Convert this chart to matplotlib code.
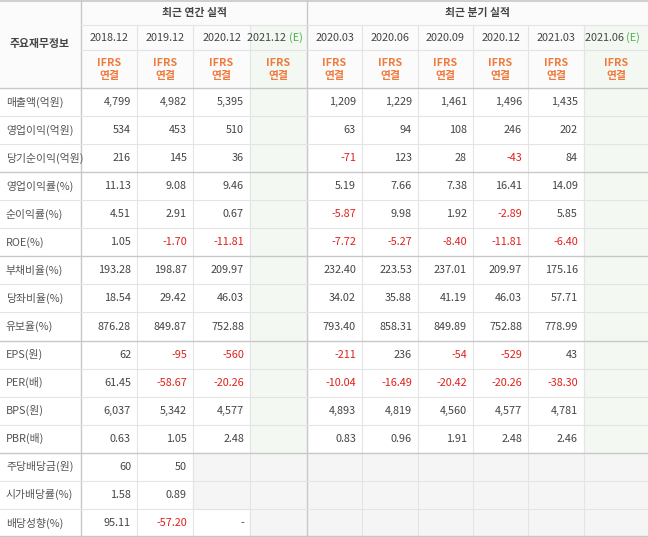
import matplotlib.pyplot as plt
from matplotlib.patches import Rectangle

plt.rcParams['font.family'] = ['Noto Sans CJK KR', 'DejaVu Sans']

# table data
periods = ["2018.12", "2019.12", "2020.12", "2021.12", "2020.03", "2020.06",
           "2020.09", "2020.12", "2021.03", "2021.06"]
estimate = [False, False, False, True, False, False, False, False, False, True]
row_labels = ["매출액(억원)", "영업이익(억원)", "당기순이익(억원)", "영업이익률(%)", "순이익률(%)",
              "ROE(%)", "부채비율(%)", "당좌비율(%)", "유보율(%)", "EPS(원)", "PER(배)",
              "BPS(원)", "PBR(배)", "주당배당금(원)", "시가배당률(%)", "배당성향(%)"]
values = [
    ["4,799", "4,982", "5,395", "", "1,209", "1,229", "1,461", "1,496", "1,435", ""],
    ["534", "453", "510", "", "63", "94", "108", "246", "202", ""],
    ["216", "145", "36", "", "-71", "123", "28", "-43", "84", ""],
    ["11.13", "9.08", "9.46", "", "5.19", "7.66", "7.38", "16.41", "14.09", ""],
    ["4.51", "2.91", "0.67", "", "-5.87", "9.98", "1.92", "-2.89", "5.85", ""],
    ["1.05", "-1.70", "-11.81", "", "-7.72", "-5.27", "-8.40", "-11.81", "-6.40", ""],
    ["193.28", "198.87", "209.97", "", "232.40", "223.53", "237.01", "209.97", "175.16", ""],
    ["18.54", "29.42", "46.03", "", "34.02", "35.88", "41.19", "46.03", "57.71", ""],
    ["876.28", "849.87", "752.88", "", "793.40", "858.31", "849.89", "752.88", "778.99", ""],
    ["62", "-95", "-560", "", "-211", "236", "-54", "-529", "43", ""],
    ["61.45", "-58.67", "-20.26", "", "-10.04", "-16.49", "-20.42", "-20.26", "-38.30", ""],
    ["6,037", "5,342", "4,577", "", "4,893", "4,819", "4,560", "4,577", "4,781", ""],
    ["0.63", "1.05", "2.48", "", "0.83", "0.96", "1.91", "2.48", "2.46", ""],
    ["60", "50", "", "", "", "", "", "", "", ""],
    ["1.58", "0.89", "", "", "", "", "", "", "", ""],
    ["95.11", "-57.20", "-", "", "", "", "", "", "", ""],
]

col_x = [0, 81, 137, 193, 250, 307, 362, 418, 473, 528, 584, 648]
row_h = 28.06
row_y = [88 + i * row_h for i in range(len(row_labels) + 1)]
section_ends = [3, 6, 9, 13]

fig = plt.figure(figsize=(6.48, 5.37), dpi=100)
ax = fig.add_axes([0, 0, 1, 1])
ax.set_xlim(0, 648)
ax.set_ylim(537, 0)
ax.axis("off")

grid = "#e4e4e4"
strong = "#c8c8c8"
txt = "#444444"
fs = 7.8

# backgrounds
ax.add_patch(Rectangle((0, 0), 648, 88, color="#fbfbfb", zorder=0))
for j, est in enumerate(estimate):
    if est:
        ax.add_patch(Rectangle((col_x[j + 1], 25), col_x[j + 2] - col_x[j + 1], 537 - 25,
                               color="#f3f8f3", zorder=0))
# dividend rows, empty cells grey
for i in range(13, 16):
    for j in range(len(periods)):
        if values[i][j] == "" and not (i == 15 and j == 2):
            ax.add_patch(Rectangle((col_x[j + 1], row_y[i]), col_x[j + 2] - col_x[j + 1], row_h,
                                   color="#f5f5f5", zorder=1))

# grid lines
for x in col_x[1:-1]:
    lw, c = (1.0, strong) if x in (81, 307) else (0.8, grid)
    ax.plot([x, x], [25 if x not in (81, 307) else 0, 537], color=c, lw=lw, zorder=2)
ax.plot([81, 648], [25, 25], color=grid, lw=0.8, zorder=2)
ax.plot([81, 648], [50, 50], color=grid, lw=0.8, zorder=2)
ax.plot([0, 648], [1, 1], color=strong, lw=1.2, zorder=2)
ax.plot([0, 648], [88, 88], color=strong, lw=1.0, zorder=2)
for i in range(1, len(row_labels) + 1):
    c = strong if i in section_ends or i == len(row_labels) else grid
    y = min(row_y[i], 536)
    ax.plot([0, 648], [y, y], color=c, lw=1.0 if c == strong else 0.8, zorder=2)

# header texts
ax.text(40, 44, "주요재무정보", ha="center", va="center", fontsize=fs, color=txt, fontweight="bold")
ax.text((81 + 307) / 2, 13, "최근 연간 실적", ha="center", va="center", fontsize=fs, color=txt, fontweight="bold")
ax.text((307 + 648) / 2, 13, "최근 분기 실적", ha="center", va="center", fontsize=fs, color=txt, fontweight="bold")
for j, p in enumerate(periods):
    cx = (col_x[j + 1] + col_x[j + 2]) / 2
    if estimate[j]:
        ax.text(cx + 10, 38, "(E)", ha="left", va="center", fontsize=fs, color="#4caf50")
        ax.text(cx + 10, 38, p + " ", ha="right", va="center", fontsize=fs, color=txt)
    else:
        ax.text(cx, 38, p, ha="center", va="center", fontsize=fs, color=txt)
    ax.text(cx, 63, "IFRS", ha="center", va="center", fontsize=fs, color="#f07a3c", fontweight="bold")
    ax.text(cx, 76, "연결", ha="center", va="center", fontsize=fs, color="#f07a3c", fontweight="bold")

# body
for i, lab in enumerate(row_labels):
    cy = row_y[i] + row_h / 2
    ax.text(6, cy, lab, ha="left", va="center", fontsize=fs, color="#555555")
    for j, v in enumerate(values[i]):
        if v == "":
            continue
        col = "#e0201b" if v.startswith("-") and v != "-" else txt
        ax.text(col_x[j + 2] - 6, cy, v, ha="right", va="center", fontsize=fs, color=col)

fig.savefig("out.png", dpi=100)
